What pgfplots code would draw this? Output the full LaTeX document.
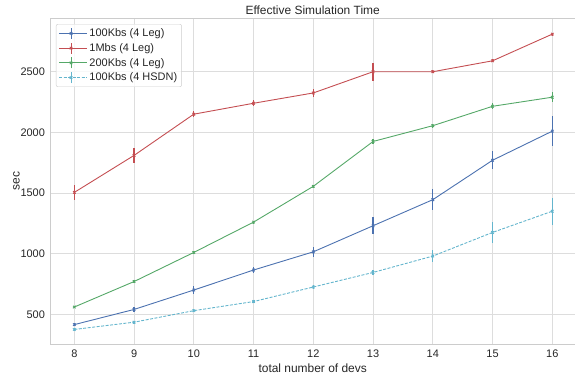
\documentclass[border=0pt]{standalone}
\usepackage{pgfplots}
\pgfplotsset{compat=1.18}
\usepackage{pgfplotstable}
\usepackage{fontspec}
\setmainfont{Liberation Sans}
\definecolor{sblue}{HTML}{4C72B0}
\definecolor{sred}{HTML}{C44E52}
\definecolor{sgreen}{HTML}{55A868}
\definecolor{scyan}{HTML}{64B5CD}
\definecolor{gridc}{HTML}{DDDDDD}
\definecolor{spinec}{HTML}{CCCCCC}
\definecolor{textc}{HTML}{262626}

\pgfplotstableread{
x y e
8 415 15
9 540 20
10 700 30
11 865 25
12 1015 40
13 1230 70
14 1445 85
15 1770 75
16 2010 125
}\blue
\pgfplotstableread{
x y e
8 1505 60
9 1810 60
10 2150 25
11 2240 25
12 2325 30
13 2500 75
14 2500 12
15 2590 12
16 2810 12
}\red
\pgfplotstableread{
x y e
8 560 10
9 770 10
10 1010 12
11 1260 12
12 1555 15
13 1925 22
14 2055 15
15 2215 25
16 2290 40
}\green
\pgfplotstableread{
x y e
8 375 12
9 435 12
10 530 12
11 605 12
12 725 15
13 845 20
14 980 50
15 1175 90
16 1350 110
}\cyan

\begin{document}
\begin{tikzpicture}
\begin{axis}[
  name=ax,
  scale only axis,
  width=524.6bp, height=326.5bp,
  xmin=7.6, xmax=16.38,
  ymin=251, ymax=2943,
  xtick={8,...,16},
  ytick={500,1000,1500,2000,2500},
  axis line style={spinec, line width=0.9bp},
  grid=major,
  major grid style={gridc, line width=0.9bp},
  major tick length=0pt,
  tick label style={font=\fontsize{11}{13}\selectfont, text=textc},
  /pgf/number format/assume math mode=true,
  /pgf/number format/set thousands separator={},
  xticklabel style={yshift=-2bp},
  yticklabel style={xshift=-2bp},
  title={Effective Simulation Time},
  title style={font=\fontsize{12}{14}\selectfont, text=textc, yshift=-6bp},
  xlabel={total number of devs},
  ylabel={sec},
  xlabel style={font=\fontsize{12}{14}\selectfont, text=textc, yshift=1bp},
  ylabel style={font=\fontsize{12}{14}\selectfont, text=textc, yshift=-6bp},
  legend style={at={(0.0105,0.9816)}, anchor=north west, draw=spinec, rounded corners=2bp,
     font=\fontsize{11}{13}\selectfont, text=textc, fill=white, fill opacity=0.8, text opacity=1,
     row sep=1.3bp, inner sep=2.5bp},
  legend cell align=left,
  legend image code/.code={
     \path (0bp,0bp) -- (28bp,0bp);
     \draw[#1, mark=none] (0bp,0bp) -- (24bp,0bp);
     \draw[#1, solid, mark=none] (12bp,-5.5bp) -- (12bp,5.5bp);
     \draw[#1, solid] plot coordinates {(12bp,0bp)};
  },
  every axis plot/.append style={line width=0.9bp, mark=x, mark size=1.8bp, mark options={solid}},
  error bars/y dir=both,
  error bars/y explicit,
  error bars/error mark=none,
  error bars/error bar style={line width=1.2bp, solid},
]
\addplot[sblue] table[x=x, y=y, y error=e] {\blue};
\addlegendentry{100Kbs (4 Leg)}
\addplot[sred] table[x=x, y=y, y error=e] {\red};
\addlegendentry{1Mbs (4 Leg)}
\addplot[sgreen] table[x=x, y=y, y error=e] {\green};
\addlegendentry{200Kbs (4 Leg)}
\addplot[scyan, dash pattern=on 3bp off 1.5bp] table[x=x, y=y, y error=e] {\cyan};
\addlegendentry{100Kbs (4 HSDN)}
\end{axis}
\pgfresetboundingbox
\path (ax.south west) ++(-50.4bp,-34.5bp) rectangle ++(575bp,379bp);
\end{tikzpicture}
\end{document}
